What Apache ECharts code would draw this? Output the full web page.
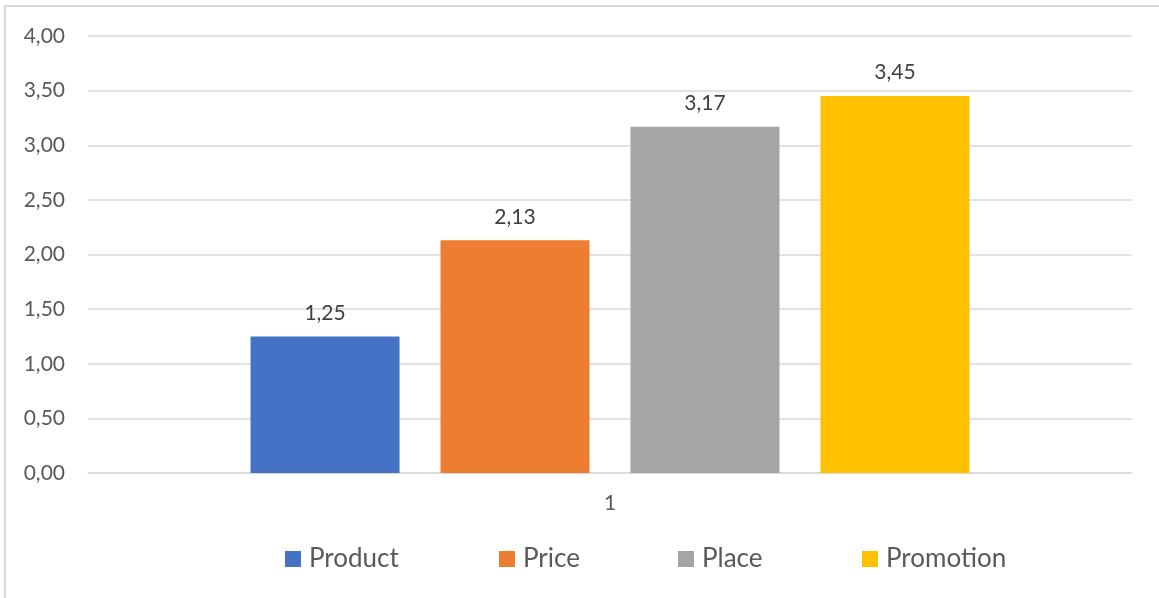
<!DOCTYPE html>
<html>
<head>
<meta charset="utf-8">
<script src="https://cdn.jsdelivr.net/npm/echarts@6/dist/echarts.min.js"></script>
<style>
  html, body { margin: 0; padding: 0; background: #ffffff; }
  #chart { width: 1159px; height: 598px; }
</style>
</head>
<body>
<div id="chart"></div>
<script>
// Chart data
const categories = ['1'];
const seriesNames = ['Product', 'Price', 'Place', 'Promotion'];
const seriesValues = [[1.25], [2.13], [3.17], [3.45]];
const seriesColors = ['#4472C4', '#ED7D31', '#A5A5A5', '#FFC000'];
const yTicks = { min: 0, max: 4, interval: 0.5 };

// Layout of the legend entries along the bottom row (left edge of each swatch)
const legendLefts = [285, 499, 678, 862];

const FONT = 'Lato, "Open Sans", sans-serif';
const TEXT = '#595959';

function fmtComma(v, digits) {
  return Number(v).toFixed(digits).replace('.', ',');
}

const chart = echarts.init(document.getElementById('chart'), null, { renderer: 'canvas' });

const series = seriesNames.map((name, i) => ({
  name: name,
  type: 'bar',
  data: seriesValues[i],
  barWidth: 149,
  barGap: '27.5%',
  itemStyle: { color: seriesColors[i] },
  label: {
    show: true,
    position: 'top',
    distance: 13,
    color: '#404040',
    fontFamily: FONT,
    fontSize: 21,
    formatter: p => fmtComma(p.value, 2)
  }
}));

// One legend component per series so each entry sits at its own spot
const legends = seriesNames.map((name, i) => ({
  data: [name],
  left: legendLefts[i],
  top: 546,
  itemWidth: 16,
  itemHeight: 16,
  icon: 'rect',
  padding: 0,
  textStyle: { color: TEXT, fontSize: 26, fontFamily: FONT, padding: [0, 0, 0, 3] }
}));

chart.setOption({
  animation: false,
  textStyle: { fontFamily: FONT },
  graphic: [{
    type: 'rect',
    shape: { x: 5, y: 6, width: 1170, height: 610 },
    style: { fill: 'none', stroke: '#d9d9d9', lineWidth: 2 },
    silent: true
  }],
  grid: { left: 88, right: 27, top: 36, bottom: 125 },
  legend: legends,
  xAxis: {
    type: 'category',
    data: categories,
    axisLine: { show: true, lineStyle: { color: '#d9d9d9', width: 1.5 } },
    axisTick: { show: false },
    axisLabel: { color: TEXT, fontSize: 21, fontFamily: FONT, margin: 20 }
  },
  yAxis: {
    type: 'value',
    min: yTicks.min,
    max: yTicks.max,
    interval: yTicks.interval,
    axisLine: { show: false },
    axisTick: { show: false },
    splitLine: { lineStyle: { color: '#d9d9d9', width: 1.5 } },
    axisLabel: {
      color: TEXT, fontSize: 21, fontFamily: FONT, margin: 23,
      formatter: v => fmtComma(v, 2)
    }
  },
  series: series
});
</script>
</body>
</html>
